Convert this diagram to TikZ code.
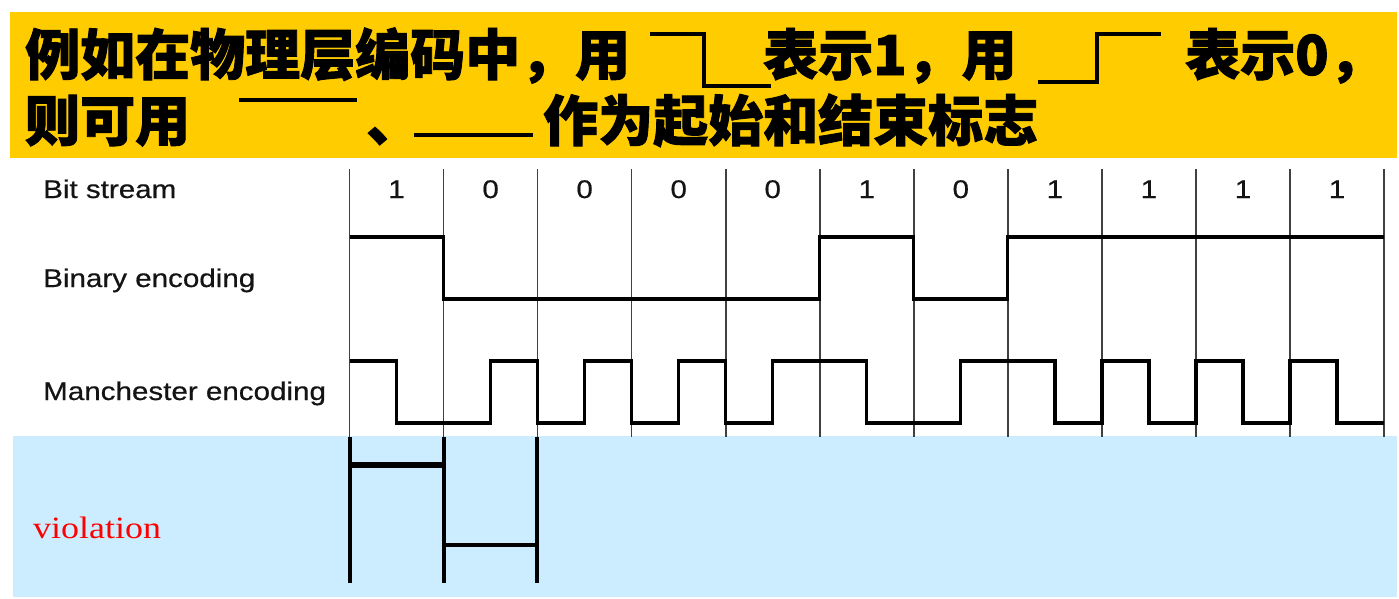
\documentclass[tikz,border=0pt]{standalone}
\usepackage{fontspec}
\usepackage{graphicx}
\setsansfont{Liberation Sans}
\newfontfamily\cjk{Noto Sans CJK SC}[BoldFeatures={FakeBold=1.6}]
\newfontfamily\serifr{Liberation Serif}
\newfontfamily\lblfont{Liberation Sans}[FakeBold=0.5]
\definecolor{banner}{HTML}{FFCC00}
\definecolor{violbg}{HTML}{CCECFF}
\definecolor{violred}{HTML}{FF0000}
\tikzset{
  gridline/.style={draw=black!75, line width=1.6pt},
  sigline/.style={draw=black, line width=3.2pt, line join=miter},
  symline/.style={draw=black, line width=4pt, line join=miter},
  violline/.style={draw=black, line width=4pt},
  violbar/.style={draw=black, line width=6pt},
  title/.style={inner sep=0pt, anchor=base west, font=\cjk\bfseries\fontsize{55}{60}\selectfont},
  lbl/.style={inner sep=0pt, anchor=base west, text=black!92, font=\lblfont\fontsize{25.5}{28}\selectfont},
  digit/.style={inner sep=0pt, anchor=base, text=black!92, font=\lblfont\fontsize{25.5}{28}\selectfont},
}
\begin{document}
\begin{tikzpicture}[x=1pt,y=-1pt]
\useasboundingbox (0,0) rectangle (1399,598);
\fill[white] (0,0) rectangle (1399,598);
\fill[banner] (10,12) rectangle (1397,158);
\fill[violbg] (13,436) rectangle (1397,597);

% title
\node[title] (t1) at (25,75) {例如在物理层编码中，用};
\node[title] (t2) at (763,75) {表示1，用};
\node[title] (t3) at (1185,75) {表示0，};
\node[title] (t4) at (25,141) {则可用};
\node[title] (t5) at (366,141) {、};
\node[title] (t6) at (543,141) {作为起始和结束标志};
\draw[symline] (650,34) -- (704,34) -- (704,86) -- (771,86);
\draw[symline] (1038,82) -- (1097,82) -- (1097,34) -- (1161,34);
\draw[symline] (239,100) -- (357,100);
\draw[symline] (414,135) -- (533,135);

% grid
\foreach \xx in {349.5,443.55,537.6,631.65,725.7,819.75,913.8,1007.85,1101.9,1195.95,1290.0,1384.05}
  \draw[gridline] (\xx,169) -- (\xx,437);

% labels
\node[lbl] (bs) at (43,198) {\scalebox{1.16}[1]{Bit stream}};
\node[lbl] (be) at (43,287) {\scalebox{1.16}[1]{Binary encoding}};
\node[lbl] (me) at (43,400) {\scalebox{1.16}[1]{Manchester encoding}};

% digits
\foreach \xx/\b [count=\k] in {396.5/1,490.6/0,584.6/0,678.7/0,772.7/0,866.8/1,960.8/0,1054.9/1,1148.9/1,1243.0/1,1337.0/1}
  \node[digit] (d\k) at (\xx,198) {\scalebox{1.16}[1]{\b}};

% binary encoding
\draw[sigline] (349.5,237) -- (443.55,237) -- (443.55,299) -- (819.75,299) -- (819.75,237)
  -- (913.8,237) -- (913.8,299) -- (1007.85,299) -- (1007.85,237) -- (1384.05,237);

% manchester encoding
\draw[sigline] (349.5,361) -- (396.5,361) -- (396.5,423) -- (443.55,423)
  -- (490.6,423) -- (490.6,361) -- (537.6,361)
  -- (537.6,423) -- (584.6,423) -- (584.6,361) -- (631.65,361)
  -- (631.65,423) -- (678.7,423) -- (678.7,361) -- (725.7,361)
  -- (725.7,423) -- (772.7,423) -- (772.7,361) -- (819.75,361)
  -- (866.8,361) -- (866.8,423) -- (913.8,423)
  -- (960.8,423) -- (960.8,361) -- (1007.85,361)
  -- (1054.9,361) -- (1054.9,423) -- (1101.9,423)
  -- (1101.9,361) -- (1148.9,361) -- (1148.9,423) -- (1195.95,423)
  -- (1195.95,361) -- (1243.0,361) -- (1243.0,423) -- (1290.0,423)
  -- (1290.0,361) -- (1337.0,361) -- (1337.0,423) -- (1384.05,423);

% violation
\draw[violline] (350,437) -- (350,583);
\draw[violline] (443.5,437) -- (443.5,583);
\draw[violline] (537,437) -- (537,583);
\draw[violbar] (350,465) -- (443.5,465);
\draw[violline] (443.5,545) -- (537,545);
\node[inner sep=0pt, anchor=base west, text=violred, font=\serifr\fontsize{31}{34}\selectfont] (viol) at (33,538) {\scalebox{1.16}[1]{violation}};
\end{tikzpicture}
\end{document}
